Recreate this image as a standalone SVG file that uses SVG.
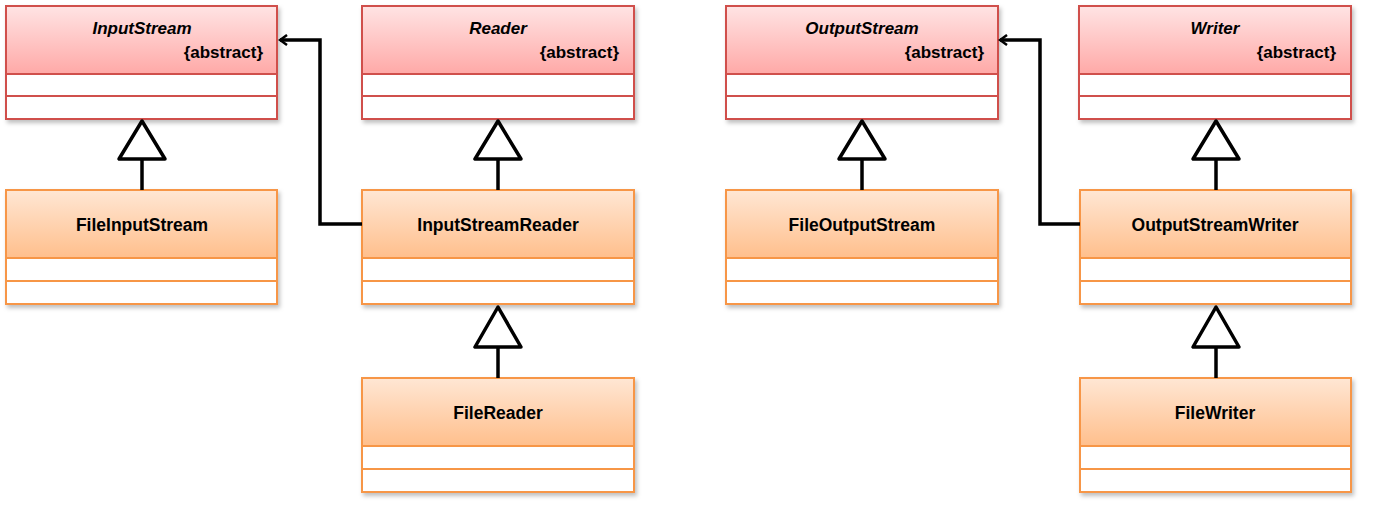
<svg xmlns="http://www.w3.org/2000/svg" width="1374" height="506" viewBox="0 0 1374 506">
<defs>
<linearGradient id="gRed" x1="0" y1="0" x2="0" y2="1">
<stop offset="0" stop-color="#ffe3e3"/>
<stop offset="1" stop-color="#ffa9a7"/>
</linearGradient>
<linearGradient id="gOrg" x1="0" y1="0" x2="0" y2="1">
<stop offset="0" stop-color="#ffe6d3"/>
<stop offset="1" stop-color="#ffbf8c"/>
</linearGradient>
<filter id="sh" x="-5%" y="-5%" width="112%" height="115%">
<feDropShadow dx="2" dy="3" stdDeviation="2" flood-color="#000" flood-opacity="0.25"/>
</filter>
<marker id="arr" markerWidth="12" markerHeight="12" refX="10" refY="6" orient="auto" markerUnits="userSpaceOnUse">
<path d="M3,1 L10,6 L3,11" fill="none" stroke="#000" stroke-width="2.5"/>
</marker>
</defs>
<style>
.box{fill:#fff;filter:url(#sh)}
.abs .box{stroke:#d0504c;stroke-width:2}
.con .box{stroke:#f79646;stroke-width:2}
.abs .hd{fill:url(#gRed)}
.con .hd{fill:url(#gOrg)}
.abs line{stroke:#d0504c;stroke-width:2}
.con line{stroke:#f79646;stroke-width:2}
text{font-family:"Liberation Sans",Arial,sans-serif;font-weight:bold;fill:#000}
.nm{font-size:17.5px;text-anchor:middle}
.it{font-style:italic;font-size:17px;text-anchor:middle}
.ab{font-size:17px;text-anchor:end}
.edge{fill:none;stroke:#000;stroke-width:3.5}
.tri{fill:#fff;stroke:#000;stroke-width:3.5;stroke-linejoin:round}
</style>

<g id="InputStream" class="abs">
<rect class="box" x="6" y="6" width="271" height="113"/>
<rect class="hd" x="7" y="7" width="269" height="67"/>
<line x1="6" y1="74" x2="277" y2="74"/><line x1="6" y1="96" x2="277" y2="96"/>
<text class="it" x="142" y="34">InputStream</text>
<text class="ab" x="263" y="58">{abstract}</text>
</g>
<g id="Reader" class="abs">
<rect class="box" x="362" y="6" width="272" height="113"/>
<rect class="hd" x="363" y="7" width="270" height="67"/>
<line x1="362" y1="74" x2="634" y2="74"/><line x1="362" y1="96" x2="634" y2="96"/>
<text class="it" x="498" y="34">Reader</text>
<text class="ab" x="619" y="58">{abstract}</text>
</g>
<g id="OutputStream" class="abs">
<rect class="box" x="726" y="6" width="272" height="113"/>
<rect class="hd" x="727" y="7" width="270" height="67"/>
<line x1="726" y1="74" x2="998" y2="74"/><line x1="726" y1="96" x2="998" y2="96"/>
<text class="it" x="862" y="34">OutputStream</text>
<text class="ab" x="984" y="58">{abstract}</text>
</g>
<g id="Writer" class="abs">
<rect class="box" x="1079" y="6" width="272" height="113"/>
<rect class="hd" x="1080" y="7" width="270" height="67"/>
<line x1="1079" y1="74" x2="1351" y2="74"/><line x1="1079" y1="96" x2="1351" y2="96"/>
<text class="it" x="1215" y="34">Writer</text>
<text class="ab" x="1336" y="58">{abstract}</text>
</g>

<g id="FileInputStream" class="con">
<rect class="box" x="6" y="190" width="271" height="114"/>
<rect class="hd" x="7" y="191" width="269" height="67"/>
<line x1="6" y1="258" x2="277" y2="258"/><line x1="6" y1="281" x2="277" y2="281"/>
<text class="nm" x="142" y="231">FileInputStream</text>
</g>
<g id="InputStreamReader" class="con">
<rect class="box" x="362" y="190" width="272" height="114"/>
<rect class="hd" x="363" y="191" width="270" height="67"/>
<line x1="362" y1="258" x2="634" y2="258"/><line x1="362" y1="281" x2="634" y2="281"/>
<text class="nm" x="498" y="231">InputStreamReader</text>
</g>
<g id="FileOutputStream" class="con">
<rect class="box" x="726" y="190" width="272" height="114"/>
<rect class="hd" x="727" y="191" width="270" height="67"/>
<line x1="726" y1="258" x2="998" y2="258"/><line x1="726" y1="281" x2="998" y2="281"/>
<text class="nm" x="862" y="231">FileOutputStream</text>
</g>
<g id="OutputStreamWriter" class="con">
<rect class="box" x="1080" y="190" width="271" height="114"/>
<rect class="hd" x="1081" y="191" width="269" height="67"/>
<line x1="1080" y1="258" x2="1351" y2="258"/><line x1="1080" y1="281" x2="1351" y2="281"/>
<text class="nm" x="1215" y="231">OutputStreamWriter</text>
</g>
<g id="FileReader" class="con">
<rect class="box" x="362" y="378" width="272" height="114"/>
<rect class="hd" x="363" y="379" width="270" height="67"/>
<line x1="362" y1="446" x2="634" y2="446"/><line x1="362" y1="469" x2="634" y2="469"/>
<text class="nm" x="498" y="419">FileReader</text>
</g>
<g id="FileWriter" class="con">
<rect class="box" x="1080" y="378" width="271" height="114"/>
<rect class="hd" x="1081" y="379" width="269" height="67"/>
<line x1="1080" y1="446" x2="1351" y2="446"/><line x1="1080" y1="469" x2="1351" y2="469"/>
<text class="nm" x="1215" y="419">FileWriter</text>
</g>

<g id="connectors">
<line class="edge" x1="142" y1="159" x2="142" y2="190"/>
<polygon class="tri" points="142,121 119,159 165,159"/>
<line class="edge" x1="498" y1="159" x2="498" y2="190"/>
<polygon class="tri" points="498,121 475,159 521,159"/>
<line class="edge" x1="862" y1="159" x2="862" y2="190"/>
<polygon class="tri" points="862,121 839,159 885,159"/>
<line class="edge" x1="1216" y1="159" x2="1216" y2="190"/>
<polygon class="tri" points="1216,121 1193,159 1239,159"/>
<line class="edge" x1="498" y1="347" x2="498" y2="378"/>
<polygon class="tri" points="498,307 475,347 521,347"/>
<line class="edge" x1="1216" y1="347" x2="1216" y2="378"/>
<polygon class="tri" points="1216,307 1193,347 1239,347"/>
<path class="edge" d="M362,224 H320 V40 H280" marker-end="url(#arr)"/>
<path class="edge" d="M1080,224 H1040 V40 H1000" marker-end="url(#arr)"/>
</g>
</svg>
